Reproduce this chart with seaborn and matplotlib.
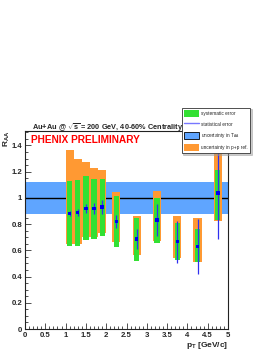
import numpy as np
import pandas as pd
import matplotlib
matplotlib.use("Agg")
import matplotlib.pyplot as plt
import matplotlib.patches as mpatches
import matplotlib.lines as mlines
from matplotlib.ticker import MultipleLocator
import seaborn as sns

# ---- data ----
pt = [1.1, 1.3, 1.5, 1.7, 1.9, 2.25, 2.75, 3.25, 3.75, 4.25, 4.75]
raa = [0.88, 0.89, 0.92, 0.92, 0.93, 0.82, 0.685, 0.83, 0.667, 0.63, 1.036]
stat_err = [0.02, 0.025, 0.035, 0.04, 0.055, 0.05, 0.077, 0.12, 0.16, 0.21, 0.35]
sys_lo = [0.63, 0.634, 0.68, 0.685, 0.71, 0.624, 0.52, 0.654, 0.527, 0.51, 0.83]
sys_hi = [1.13, 1.137, 1.17, 1.147, 1.145, 1.015, 0.85, 0.997, 0.807, 0.76, 1.21]
pp_lo = [0.646, 0.65, 0.70, 0.70, 0.73, 0.666, 0.565, 0.674, 0.54, 0.51, 0.82]
pp_hi = [1.366, 1.30, 1.277, 1.227, 1.21, 1.048, 0.865, 1.053, 0.865, 0.845, 1.35]
taa_band = [0.875, 1.12]
x_ticks = [0, 0.5, 1, 1.5, 2, 2.5, 3, 3.5, 4, 4.5, 5]
y_ticks = [0, 0.2, 0.4, 0.6, 0.8, 1, 1.2, 1.4]
x_ticklabels = ["0", "0.5", "1", "1.5", "2", "2.5", "3", "3.5", "4", "4.5", "5"]
y_ticklabels = ["0", "0.2", "0.4", "0.6", "0.8", "1", "1.2", "1.4"]

df = pd.DataFrame({"pt": pt, "raa": raa})

sns.set_style("ticks")
plt.rcParams["font.family"] = ["Liberation Sans", "DejaVu Sans"]
plt.rcParams["mathtext.fontset"] = "custom"
plt.rcParams["mathtext.rm"] = "Liberation Sans:bold"
plt.rcParams["mathtext.it"] = "Liberation Sans:bold"
plt.rcParams["mathtext.bf"] = "Liberation Sans:bold"

GREEN = "#33e033"
ORANGE = "#ff9933"
BLUE_BAND = "#5fa5ff"

fig = plt.figure(figsize=(2.74, 3.55), dpi=100)
ax = fig.add_axes([25 / 274, 26 / 355, 203 / 274, 198 / 355])

ax.set_xlim(0, 5)
ax.set_ylim(0, 1.51)

# T_AA uncertainty band and unity line
ax.axhspan(taa_band[0], taa_band[1], color=BLUE_BAND, lw=0, zorder=1)
ax.axhline(1.0, color="black", lw=1.0, zorder=2)

pt_a = np.array(pt)
ax.bar(pt_a, np.array(pp_hi) - np.array(pp_lo), bottom=pp_lo, width=0.2,
       color=ORANGE, lw=0, zorder=3)
ax.bar(pt_a, np.array(sys_hi) - np.array(sys_lo), bottom=sys_lo, width=0.13,
       color=GREEN, lw=0, zorder=4)
ax.vlines(pt_a, np.array(raa) - np.array(stat_err), np.array(raa) + np.array(stat_err),
          color="#3030f0", lw=0.9, zorder=5)
sns.scatterplot(data=df, x="pt", y="raa", marker="s", s=6, color="#0000ee",
                edgecolor="none", ax=ax, zorder=6, legend=False)

# ticks
ax.set_xticks(x_ticks)
ax.set_xticklabels(x_ticklabels)
ax.set_yticks(y_ticks)
ax.set_yticklabels(y_ticklabels)
ax.xaxis.set_minor_locator(MultipleLocator(0.1))
ax.yaxis.set_minor_locator(MultipleLocator(0.05))
ax.tick_params(which="both", direction="in", top=False, right=False, width=0.6, color="#333333")
ax.tick_params(which="major", length=4.5, labelsize=5.6, pad=2)
ax.tick_params(which="minor", length=2.2)
for lab in ax.get_xticklabels() + ax.get_yticklabels():
    lab.set_fontweight("bold")
for sp in ax.spines.values():
    sp.set_linewidth(0.8)
    sp.set_color("#222222")
ax.set_xlabel("")
ax.set_ylabel("")

# labels
ax.text(1.0, -0.085, r"p$_\mathregular{T}$ [GeV/c]", transform=ax.transAxes,
        ha="right", va="center", fontsize=6, fontweight="bold")
fig.text(6.5 / 274, 1 - 131 / 355, r"R$_\mathregular{AA}$", rotation=90,
         ha="center", va="top", fontsize=6, fontweight="bold")
fig.text(32 / 274, 1 - 130 / 355, r"Au+Au @ $\sqrt{\mathregular{s}}$ = 200 GeV, 40-60% Centrality",
         ha="left", va="baseline", fontsize=5.3, fontweight="bold")
ax.text(0.03, 0.955, "PHENIX PRELIMINARY", transform=ax.transAxes, ha="left",
        va="center", fontsize=7.3, fontweight="bold", color="#ff0000")

# legend
handles = [
    mpatches.Patch(facecolor=GREEN, edgecolor="none", label="systematic error"),
    mlines.Line2D([], [], color="#7777ff", lw=1, label="statistical error"),
    mpatches.Patch(facecolor=BLUE_BAND, edgecolor="black", lw=0.6,
                   label=r"uncertainty in T$_\mathregular{AA}$"),
    mpatches.Patch(facecolor=ORANGE, edgecolor="none", label="uncertainty in p+p ref."),
]
leg = fig.legend(handles=handles, loc="upper left",
                 bbox_to_anchor=(182 / 274, 1 - 108 / 355), fontsize=3.4,
                 frameon=True, fancybox=False,
                 shadow={"color": "#999999", "ox": 1, "oy": -1},
                 handlelength=3.0, handleheight=1.9, labelspacing=0.75,
                 borderpad=0.5, handletextpad=0.6, borderaxespad=0)
leg.get_frame().set_edgecolor("#333333")
leg.get_frame().set_linewidth(0.6)
leg.set_zorder(20)

fig.savefig("out.png", dpi=100)
